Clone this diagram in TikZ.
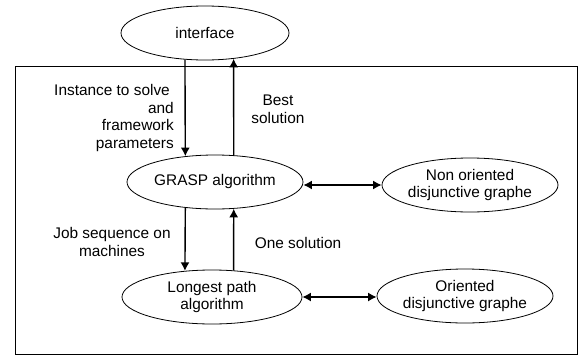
\documentclass[tikz,border=0pt]{standalone}
\usepackage{fontspec}
\setmainfont{Liberation Sans}
\usetikzlibrary{shapes.geometric,arrows.meta}
\begin{document}
\begin{tikzpicture}[x=1pt,y=-1pt,
  every node/.style={font=\fontsize{15.4}{17.7}\selectfont},
  oval/.style={draw, ellipse, line width=0.8pt, inner sep=0pt, align=center,
               minimum height=54pt},
  tip/.tip={Latex[length=8.5pt,width=9pt]},
  flow/.style={line width=1.4pt, -tip},
  both/.style={line width=1.4pt, tip-tip},
  lbl/.style={inner sep=0pt}]
\useasboundingbox (0,0) rectangle (580,356);

% system frame
\draw[line width=0.8pt] (15,66) rectangle (577,354);

% components
\node[oval, minimum width=168pt] (iface)   at (205,33)  {interface};
\node[oval, minimum width=176pt] (grasp)   at (215,182) {GRASP algorithm};
\node[oval, minimum width=180pt] (longest) at (212,297) {Longest path\\algorithm};
\node[oval, minimum width=176pt] (nonor)   at (470,185) {Non oriented\\disjunctive graphe};
\node[oval, minimum width=176pt] (orient)  at (465,296) {Oriented\\disjunctive graphe};

% data flows between interface, GRASP and longest path
\draw[flow] (iface.-127.33) -- (grasp.139.77);
\draw[flow] (grasp.55.74)   -- (iface.-42.28);
\draw[flow] (grasp.-139.77) -- (longest.136.35);
\draw[flow] (longest.51.34) -- (grasp.-55.74);

% exchanges with the graph representations
\draw[both] (grasp.east |- nonor.west) -- (nonor.west);
\draw[both] (longest.east) -- (longest.east -| orient.west);

% flow labels
\node[lbl, anchor=east, align=right] (l1) at (174,118)
  {Instance to solve\hspace*{4pt}\\and\\framework\\parameters};
\node[lbl, align=center] (l2) at (278,109) {Best\\solution};
\node[lbl, align=center] (l3) at (112,242) {Job sequence on\\machines};
\node[lbl] (l4) at (298,243) {One solution};
\end{tikzpicture}
\end{document}
